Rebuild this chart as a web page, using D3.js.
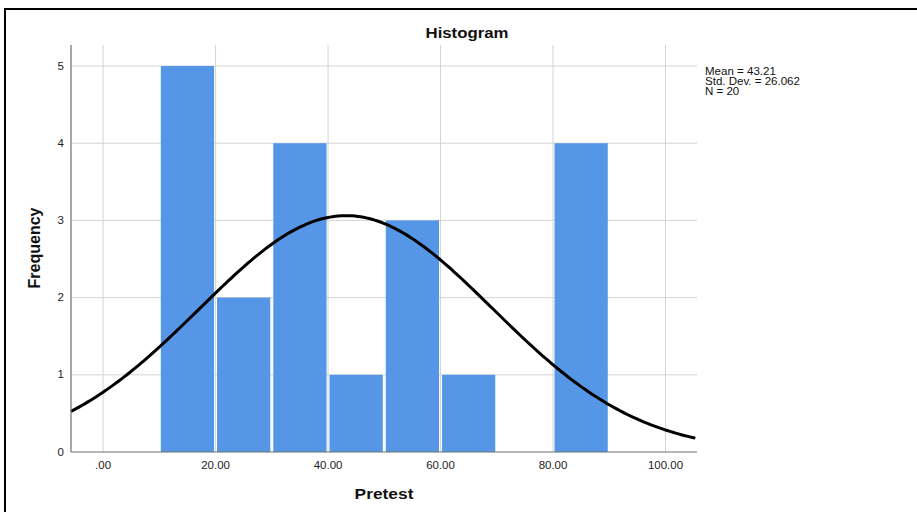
<!DOCTYPE html>
<html>
<head>
<meta charset="utf-8">
<script src="https://cdn.jsdelivr.net/npm/d3@7"></script>
<style>
  body { margin: 0; background: #fff; }
  svg { display: block; font-family: "Liberation Sans", Arial, sans-serif; }
</style>
</head>
<body>
<div id="chart"></div>
<script>
// histogram bins (Pretest) and their counts
const binStarts = [10, 20, 30, 40, 50, 60, 70, 80];
const binCounts = [5, 2, 4, 1, 3, 1, 0, 4];
const binWidth = 10;
const xTicks = [0, 20, 40, 60, 80, 100];
const yTicks = [0, 1, 2, 3, 4, 5];
// summary stats shown in the legend
const statMean = 43.21;
const statSd = 26.062;
const statN = 20;

function drawHistogram() {
    const width = 917, height = 512;
    const svg = d3.select("#chart").append("svg").attr("width", width).attr("height", height);

    // SPSS text looks a bit wide, so stretch it horizontally
    const wideText = (g, tx, ty, sx, rot) => g.append("text")
        .attr("transform", `translate(${tx},${ty})${rot ? ` rotate(${rot})` : ""} scale(${sx},1)`);

    // outer frame (top + left edges visible)
    svg.append("path").attr("d", "M5,512 L5,9 L917,9").attr("fill", "none").attr("stroke", "#000").attr("stroke-width", 2);

    const plotLeft = 71, plotRight = 697, plotTop = 45, plotBottom = 452;
    const x = d3.scaleLinear().domain([-5.7, 105.6]).range([plotLeft, plotRight]);
    const y = d3.scaleLinear().domain([0, 5]).range([plotBottom, 66]);

    const grid = svg.append("g");
    grid.selectAll("line.v").data(xTicks).join("line").attr("class", "v")
        .attr("x1", d => x(d)).attr("x2", d => x(d)).attr("y1", plotTop).attr("y2", plotBottom)
        .attr("stroke", "#d4d4d4").attr("stroke-width", 1);
    grid.selectAll("line.h").data(yTicks.filter(d => d > 0)).join("line").attr("class", "h")
        .attr("x1", plotLeft).attr("x2", plotRight).attr("y1", d => y(d)).attr("y2", d => y(d))
        .attr("stroke", "#d4d4d4").attr("stroke-width", 1);

    const bins = binStarts.map((s, i) => ({ x0: s, x1: s + binWidth, count: binCounts[i] }));
    svg.append("g").selectAll("rect").data(bins.filter(d => d.count > 0)).join("rect")
        .attr("x", d => x(d.x0) + 1.5)
        .attr("width", d => x(d.x1) - x(d.x0) - 3)
        .attr("y", d => y(d.count))
        .attr("height", d => y(0) - y(d.count))
        .attr("fill", "#5596e6");

    // fitted normal curve from the displayed mean / sd / N
    const normalY = v => statN * binWidth / (statSd * Math.sqrt(2 * Math.PI)) * Math.exp(-0.5 * ((v - statMean) / statSd) ** 2);
    const curveXs = d3.range(x.domain()[0], x.domain()[1] + 0.01, 0.5);
    svg.append("path").datum(curveXs)
        .attr("d", d3.line().x(d => x(d)).y(d => y(normalY(d))))
        .attr("fill", "none").attr("stroke", "#000").attr("stroke-width", 3);

    // axes
    svg.append("line").attr("x1", plotLeft).attr("x2", plotLeft).attr("y1", plotTop).attr("y2", plotBottom).attr("stroke", "#6e6e6e").attr("stroke-width", 1.2);
    svg.append("line").attr("x1", plotLeft).attr("x2", plotRight).attr("y1", plotBottom).attr("y2", plotBottom).attr("stroke", "#6e6e6e").attr("stroke-width", 1.2);

    const yLab = svg.append("g");
    yTicks.forEach(d => wideText(yLab, plotLeft - 7, y(d) + 3.5, 1.15).attr("text-anchor", "end")
        .style("font-size", "10px").style("fill", "#222").text(d));
    const xLab = svg.append("g");
    xTicks.forEach(d => wideText(xLab, x(d), 469, 1.15).attr("text-anchor", "middle")
        .style("font-size", "10px").style("fill", "#222").text(d === 0 ? ".00" : d.toFixed(2)));

    wideText(svg, 467, 38, 1.12).attr("text-anchor", "middle")
        .style("font-size", "15px").style("font-weight", "700").style("fill", "#111").text("Histogram");
    wideText(svg, 384, 499, 1.12).attr("text-anchor", "middle")
        .style("font-size", "15.5px").style("font-weight", "700").style("fill", "#111").text("Pretest");
    wideText(svg, 40, 248, 1.0, -90).attr("text-anchor", "middle")
        .style("font-size", "16px").style("font-weight", "700").style("fill", "#111").text("Frequency");

    const legendLines = [`Mean = ${statMean}`, `Std. Dev. = ${statSd}`, `N = ${statN}`];
    const legend = svg.append("g");
    legendLines.forEach((d, i) => wideText(legend, 705, 75 + i * 10, 1.1)
        .style("font-size", "10.5px").style("fill", "#111").text(d));
}

drawHistogram();
</script>
</body>
</html>
